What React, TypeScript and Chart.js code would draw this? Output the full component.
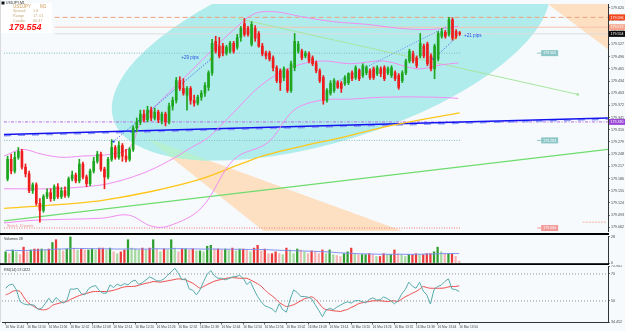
import React, { useEffect, useRef } from 'react';
import { Chart, registerables } from 'chart.js';
Chart.register(...registerables);
Chart.defaults.font.family = '"Liberation Sans", Arial, sans-serif';

// ---------- data ----------
const opens = [
179.185,179.235,179.205,179.240,179.255,179.215,179.198,179.155,179.170,179.123,
179.105,179.140,179.150,179.135,179.165,179.140,179.155,179.143,179.185,179.195,
179.180,179.223,179.190,179.173,179.205,179.230,179.248,179.210,179.190,179.235,
179.265,179.240,179.270,179.243,179.235,179.260,179.315,179.330,179.350,179.335,
179.360,179.340,179.355,179.333,179.350,179.330,179.370,179.385,179.435,179.415,
179.398,179.415,179.385,179.378,179.393,179.403,179.418,179.455,179.535,179.523,
179.523,179.505,179.510,179.530,179.520,179.545,179.580,179.568,179.528,179.568,
179.555,179.523,179.505,179.505,179.493,179.468,179.460,179.443,179.460,179.410,
179.468,179.510,179.510,179.498,179.503,179.493,179.480,179.460,179.443,179.385,
179.403,179.410,179.430,179.428,179.428,179.430,179.455,179.443,179.460,179.448,
179.455,179.460,179.465,179.453,179.465,179.468,179.455,179.448,179.455,179.448,
179.435,179.455,179.485,179.503,179.493,179.498,179.523,179.528,179.498,179.465,
179.490,179.548,179.558,179.553,179.590,179.560,179.556];
const closes = [
179.235,179.205,179.240,179.255,179.215,179.198,179.155,179.170,179.123,179.105,
179.140,179.150,179.135,179.165,179.140,179.155,179.143,179.185,179.195,179.180,
179.223,179.190,179.173,179.205,179.230,179.248,179.210,179.190,179.235,179.265,
179.240,179.270,179.243,179.235,179.260,179.315,179.330,179.350,179.335,179.360,
179.340,179.355,179.335,179.350,179.330,179.370,179.385,179.435,179.415,179.403,
179.415,179.385,179.378,179.393,179.403,179.423,179.455,179.530,179.510,179.498,
179.505,179.520,179.530,179.510,179.545,179.568,179.553,179.553,179.578,179.543,
179.523,179.503,179.498,179.490,179.468,179.435,179.430,179.465,179.410,179.478,
179.535,179.528,179.493,179.505,179.485,179.478,179.460,179.435,179.385,179.410,
179.428,179.435,179.418,179.415,179.443,179.453,179.440,179.468,179.440,179.473,
179.468,179.443,179.443,179.468,179.453,179.440,179.465,179.468,179.440,179.418,
179.455,179.485,179.510,179.485,179.473,179.530,179.498,179.478,179.465,179.523,
179.555,179.560,179.548,179.590,179.543,179.548,179.554];
const highs = [
179.243,179.248,179.253,179.265,179.260,179.223,179.205,179.175,179.175,179.135,
179.145,179.160,179.160,179.170,179.173,179.163,179.165,179.190,179.205,179.200,
179.235,179.228,179.195,179.210,179.240,179.255,179.253,179.215,179.240,179.285,
179.270,179.280,179.275,179.260,179.265,179.320,179.340,179.360,179.360,179.370,
179.368,179.365,179.360,179.355,179.355,179.378,179.393,179.443,179.445,179.440,
179.420,179.420,179.398,179.398,179.410,179.430,179.460,179.540,179.548,179.545,
179.530,179.525,179.535,179.535,179.553,179.573,179.593,179.573,179.585,179.575,
179.560,179.530,179.510,179.510,179.498,179.473,179.465,179.470,179.465,179.485,
179.555,179.535,179.515,179.510,179.508,179.498,179.485,179.465,179.448,179.415,
179.435,179.440,179.435,179.433,179.448,179.455,179.460,179.473,179.465,179.478,
179.473,179.465,179.470,179.473,179.470,179.473,179.470,179.473,179.460,179.453,
179.460,179.490,179.515,179.510,179.498,179.555,179.528,179.533,179.503,179.528,
179.560,179.568,179.563,179.596,179.595,179.565,179.560];
const lows = [
179.180,179.198,179.200,179.235,179.210,179.190,179.150,179.148,179.118,179.075,
179.100,179.135,179.128,179.130,179.135,179.135,179.138,179.138,179.180,179.175,
179.175,179.185,179.165,179.168,179.200,179.225,179.205,179.160,179.185,179.230,
179.235,179.235,179.230,179.228,179.230,179.255,179.305,179.323,179.330,179.330,
179.333,179.335,179.328,179.325,179.320,179.325,179.360,179.378,179.410,179.398,
179.360,179.375,179.370,179.373,179.385,179.395,179.410,179.448,179.505,179.493,
179.498,179.500,179.505,179.505,179.515,179.535,179.548,179.548,179.523,179.535,
179.520,179.498,179.490,179.485,179.460,179.430,179.410,179.435,179.405,179.405,
179.460,179.505,179.488,179.493,179.480,179.473,179.455,179.430,179.375,179.380,
179.398,179.405,179.415,179.405,179.423,179.425,179.435,179.438,179.435,179.443,
179.450,179.438,179.438,179.448,179.445,179.435,179.450,179.443,179.435,179.413,
179.430,179.450,179.480,179.480,179.468,179.493,179.493,179.473,179.460,179.440,
179.485,179.543,179.543,179.548,179.538,179.543,179.550];

const volumes = [
12,10,14,12,9,17,12,14,15,15, 15,14,15,22,25,15,13,15,28,16,
14,15,14,14,15,14,16,16,14,16, 12,10,12,14,25,16,15,14,16,14,
16,25,15,12,15,14,25,16,12,15, 15,14,15,13,13,12,18,19,15,15,
14,15,14,16,13,15,15,14,12,16, 19,13,15,10,10,12,10,9,16,14,
10,15,14,12,10,13,12,10,14,10, 14,9,8,7,10,12,16,10,9,9,
9,10,9,7,7,10,9,9,14,10, 9,7,9,9,10,9,9,10,10,12,
17,12,10,10,10,7,2];
const volumeMA = [
13.6,13.6,13.5,13.5,13.4,13.4,13.5,13.6,13.7,13.8,14.0,14.1,14.3,14.6,14.9,15.0,15.1,15.2,15.5,15.6,
15.6,15.6,15.5,15.5,15.4,15.4,15.4,15.3,15.3,15.2,15.1,15.0,15.0,15.0,15.2,15.2,15.1,15.0,15.0,14.9,
15.0,15.3,15.3,15.2,15.2,15.1,15.4,15.5,15.4,15.4,15.3,15.2,15.2,15.1,15.0,14.9,15.0,15.1,15.0,15.0,
14.9,14.8,14.8,14.8,14.7,14.7,14.6,14.6,14.5,14.5,14.6,14.5,14.4,14.2,14.0,13.9,13.7,13.5,13.5,13.4,
13.2,13.1,13.0,12.9,12.7,12.6,12.5,12.3,12.2,12.0,11.8,11.5,11.2,10.9,10.7,10.5,10.4,10.2,10.0,9.9,
9.8,9.7,9.6,9.5,9.4,9.4,9.4,9.3,9.4,9.4,9.4,9.3,9.3,9.3,9.4,9.4,9.5,9.6,9.6,9.7,
10.0,10.1,10.1,10.2,10.2,10.2,10.1];

const rsiValues = [
59.4,61.9,62.4,58.2,49.6,47.9,47.2,47.2,46.9,43.7, 44.5,48.1,52.0,48.6,52.6,50.1,48.4,50.3,58.9,58.7,
59.4,55.5,54.5,58.9,60.7,61.4,57.7,55.8,55.8,61.9, 59.9,62.4,61.2,62.9,61.9,64.4,65.4,62.2,63.6,65.6,
67.8,66.6,64.9,64.9,66.4,69.0,71.5,74.2,70.5,65.6, 66.6,58.9,57.9,54.5,58.2,64.4,69.8,72.5,68.6,66.8,
66.8,65.6,66.6,67.8,68.1,69.0,66.8,62.2,64.4,58.4, 53.3,49.4,46.4,45.4,44.2,41.7,47.9,43.5,41.7,50.8,
58.2,56.3,53.3,53.3,52.8,51.6,47.2,43.0,38.3,43.2, 44.5,43.5,45.4,46.9,48.4,49.4,48.4,50.1,50.3,49.6,
48.6,51.1,52.3,50.8,50.8,53.0,51.8,50.1,47.9,50.1, 55.0,58.4,63.9,60.9,59.4,63.9,57.4,54.5,47.7,58.4,
60.7,61.7,64.4,66.4,58.9,58.4,57.0];
const rsiSignal = [
54.5,55.5,57.2,57.7,57.0,53.1,49.4,47.2,45.7,44.2, 43.5,43.5,44.5,46.7,47.7,48.4,49.1,49.6,51.1,52.3,
53.5,54.5,55.3,56.0,56.8,57.0,57.0,57.0,57.0,57.4, 57.9,58.7,59.7,60.4,60.7,60.7,60.9,61.7,62.4,63.1,
63.6,64.4,64.2,63.9,64.4,64.9,65.4,65.9,66.4,66.1, 65.6,64.4,63.1,61.2,59.4,60.7,62.2,63.4,64.6,65.4,
65.9,66.6,67.1,67.3,67.1,66.8,66.8,66.8,65.6,64.2, 62.7,60.9,58.2,55.8,53.8,51.6,48.9,47.2,45.9,46.4,
47.2,48.6,50.1,51.6,52.3,53.1,51.5,48.5,45.2,43.5, 43.2,42.7,42.5,42.2,43.0,43.7,45.2,46.4,47.9,48.6,
49.1,49.6,50.1,50.1,50.1,49.9,49.6,49.9,50.1,49.6, 51.3,53.1,54.3,55.8,57.0,58.7,60.7,59.9,59.4,59.4,
59.4,59.4,59.7,60.4,60.7,60.7,61.2];

const timeTickIndex = [0,6,12,18,24,30,36,42,48,54,60,66,72,78,84,90,96,102,108,114,120,126];
const timeLabels = ['16 Mar 11:44','16 Mar 11:50','16 Mar 11:56','16 Mar 12:02','16 Mar 12:08','16 Mar 12:14',
'16 Mar 12:20','16 Mar 12:26','16 Mar 12:32','16 Mar 12:38','16 Mar 12:44','16 Mar 12:50','16 Mar 12:56',
'16 Mar 13:02','16 Mar 13:08','16 Mar 13:14','16 Mar 13:20','16 Mar 13:26','16 Mar 13:32','16 Mar 13:38',
'16 Mar 13:44','16 Mar 13:50'];
const priceTicks = [179.620,179.589,179.558,179.527,179.496,179.465,179.434,179.403,179.372,179.341,
179.310,179.279,179.248,179.217,179.186,179.155,179.124,179.093,179.062];
const volumeTicks = [0, 28];
const rsiTicks = [34.4, 50, 70, 75.9];

// indicator / object points: [bar index, price]
const bbUpper = [[-1,179.243],[4,179.260],[9.5,179.248],[15,179.240],[20.6,179.243],[29,179.248],[34,179.265],[37.3,179.330],[42.8,179.385],[51.2,179.460],[57.6,179.518],[63.1,179.565],[68.7,179.605],[74.8,179.610],[81.7,179.598],[90.9,179.585],[100.3,179.578],[109.5,179.568],[117.8,179.565],[125.6,179.573]];
const bbMiddle = [[-1,179.160],[12.3,179.160],[21.4,179.165],[28.1,179.173],[37.3,179.198],[44.8,179.230],[51.2,179.265],[55.9,179.290],[63.1,179.355],[70.6,179.423],[78.9,179.468],[87.3,179.485],[95.6,179.478],[104.8,179.485],[114.2,179.465],[120.6,179.475],[125.6,179.480]];
const bbLower = [[-1,179.073],[7.6,179.080],[26.2,179.085],[33.7,179.093],[40,179.065],[44.8,179.065],[53.9,179.110],[63.1,179.235],[72.6,179.278],[79.8,179.360],[87.3,179.385],[95.6,179.388],[104.8,179.393],[118.7,179.393],[125.6,179.390]];
const yellowMA = [[-1,179.110],[15,179.120],[26,179.130],[40,179.153],[54,179.185],[65,179.223],[71,179.243],[82,179.268],[93,179.290],[104,179.315],[115,179.335],[126,179.353]];
const blueLine = [[-1,179.298],[167.3,179.340]];
const greenLine = [[-1,179.078],[167.3,179.260]];
const lightGreenLine = [[64.2,179.593],[158.9,179.400]];
const trend29 = [[29.5,179.280],[56.7,179.490]];
const trendUpper = [[91.4,179.430],[122.5,179.573]];
const trend21 = [[118.7,179.490],[124.8,179.543]];
const purpleLevel = [[-1,179.330],[167.3,179.330]];
const tealLevelHigh = [[-1,179.505],[126.2,179.505]];
const tealLevelLow = [[-1,179.283],[126.2,179.283]];
const redLevel = [[-1,179.060],[126.2,179.060]];
const dayHigh = [[13.1,179.596],[167.3,179.596]];
const askLevel = [[13.1,179.571],[167.3,179.571]];
const bidLevel = [[13.1,179.554],[167.3,179.554]];
const smallSalmon = [[160.3,179.075],[167,179.075]];
const ellipseCenter = [90.1, 179.510];
const ellipseMajorEnd = [150.7, 179.684];
const ellipseMinorEnd = [97.7, 179.293];
const peachLow = [[38.7,179.290],[130.3,178.985],[80.6,178.985]];
const peachHigh = [[142.6,179.685],[176,179.685],[176,179.455]];

const X_MIN = -1, X_MAX = 167.33;
const BG = '#f6fafc';
const UP = '#1fa61f', DOWN = '#ee1c1c';

const pts = (a) => a.map(([x, y]) => ({ x, y }));
const line = (a, color, width, dash = [], extra = {}) => ({
  type: 'line', data: pts(a), borderColor: color, borderWidth: width, borderDash: dash,
  pointRadius: 0, tension: 0, fill: false, ...extra,
});

const fixWidth = (s) => { s.width = 17; s.paddingTop = 0; s.paddingBottom = 0; };
const setTicks = (vals) => (s) => { s.ticks = vals.map((v) => ({ value: v })); };

const bgPlugin = {
  id: 'bg',
  beforeDraw(chart) {
    const { ctx } = chart;
    ctx.save(); ctx.fillStyle = BG; ctx.fillRect(0, 0, chart.width, chart.height); ctx.restore();
  },
};

const shapesPlugin = {
  id: 'shapes',
  beforeDatasetsDraw(chart) {
    const { ctx, chartArea: a, scales } = chart;
    const x = scales.x, y = scales.y;
    const px = (i, p) => [x.getPixelForValue(i), y.getPixelForValue(p)];
    const poly = (arr) => {
      ctx.beginPath();
      arr.forEach(([i, p], k) => { const [X, Y] = px(i, p); if (k) ctx.lineTo(X, Y); else ctx.moveTo(X, Y); });
      ctx.closePath();
    };
    ctx.save();
    ctx.beginPath(); ctx.rect(a.left, a.top, a.right - a.left, a.bottom - a.top); ctx.clip();
    ctx.fillStyle = '#fddfc2';
    poly(peachLow); ctx.fill(); poly(peachHigh); ctx.fill();
    const [cx, cy] = px(ellipseCenter[0], ellipseCenter[1]);
    const [mx, my] = px(ellipseMajorEnd[0], ellipseMajorEnd[1]);
    const [nx, ny] = px(ellipseMinorEnd[0], ellipseMinorEnd[1]);
    const ra = Math.hypot(mx - cx, my - cy), rb = Math.hypot(nx - cx, ny - cy);
    const rot = Math.atan2(my - cy, mx - cx);
    ctx.beginPath(); ctx.ellipse(cx, cy, ra, rb, rot, 0, Math.PI * 2);
    ctx.fillStyle = '#b0ecec'; ctx.fill();
    ctx.clip();
    ctx.fillStyle = '#b6f0d2';
    poly(peachLow); ctx.fill(); poly(peachHigh); ctx.fill();
    ctx.restore();
  },
};

const axisTags = [
  { price: 179.596, bg: '#f2461e' },
  { price: 179.571, bg: '#f6a68c' },
  { price: 179.554, bg: '#0a0a0a' },
  { price: 179.330, bg: '#9b4ad8' },
];
const chartTags = [
  { price: 179.505, bg: '#8cc6c6' },
  { price: 179.283, bg: '#8cc6c6' },
  { price: 179.060, bg: '#f29a9a' },
];
const tagIndex = 148.7;

const mainOverlay = {
  id: 'mainOverlay',
  afterDraw(chart) {
    const { ctx, chartArea: a, scales } = chart;
    const x = scales.x, y = scales.y;
    ctx.save();
    ctx.textBaseline = 'middle';
    ctx.font = '3.6px "Liberation Sans"';
    axisTags.forEach((t) => {
      const Y = y.getPixelForValue(t.price);
      ctx.fillStyle = t.bg; ctx.fillRect(a.right + 1, Y - 3, 16, 6);
      ctx.fillStyle = '#fff'; ctx.fillText(t.price.toFixed(3), a.right + 2.5, Y + 0.3);
    });
    const tx = x.getPixelForValue(tagIndex);
    chartTags.forEach((t) => {
      const Y = y.getPixelForValue(t.price);
      ctx.fillStyle = t.bg; ctx.fillRect(tx - 4, Y - 0.5, 4, 1); ctx.fillRect(tx, Y - 3, 17, 6);
      ctx.fillStyle = '#fff'; ctx.fillText(t.price.toFixed(3), tx + 2, Y + 0.3);
    });
    // pips labels
    ctx.font = '4.6px "Liberation Sans"'; ctx.fillStyle = '#2f52e6';
    ctx.fillText('+29 pips', x.getPixelForValue(48.4), y.getPixelForValue(179.493));
    ctx.fillText('+21 pips', x.getPixelForValue(127.2), y.getPixelForValue(179.548));
    ctx.font = '3.4px "Liberation Sans"'; ctx.fillStyle = '#f08c8c';
    ctx.fillText('Stretch  10 points', a.left + 3, a.bottom - 5);
    // header
    ctx.fillStyle = '#ffffff'; ctx.fillRect(0, 3, 52, 30);
    ctx.fillStyle = '#111'; ctx.fillRect(1.5, 1.5, 3, 3);
    ctx.font = '3.4px "Liberation Sans"'; ctx.fillStyle = '#333';
    ctx.fillText('USDJPY,M1', 6, 3.2);
    ctx.font = '4.6px "Liberation Sans"'; ctx.fillStyle = '#d0a060';
    ctx.fillText('USDJPY', 13, 6.5); ctx.fillText('M1', 40, 6.5);
    ctx.fillStyle = '#c9ab7c';
    ctx.font = '3.8px "Liberation Sans"';
    ctx.fillText('Spread', 13, 11.3); ctx.fillText('1.8', 33, 11.3);
    ctx.fillText('Range', 13, 16); ctx.fillText('17, 01', 33, 16);
    ctx.fillText('Candle', 13, 20.8); ctx.fillText('00:47', 33, 20.8);
    ctx.font = 'italic bold 9px "Liberation Sans"'; ctx.fillStyle = '#ff1414';
    ctx.fillText('179.554', 9, 28);
    // frame
    ctx.fillStyle = '#cfd4d8'; ctx.fillRect(0, 0, 0.8, chart.height);
    ctx.fillStyle = '#000'; ctx.fillRect(0, chart.height - 2, a.right + 1, 2);
    ctx.restore();
  },
};

const volOverlay = {
  id: 'volOverlay',
  afterDraw(chart) {
    const { ctx, chartArea: a } = chart;
    ctx.save();
    ctx.textBaseline = 'middle'; ctx.font = '3.6px "Liberation Sans"'; ctx.fillStyle = '#333';
    ctx.fillText('Volumes 28', 4, 4);
    ctx.fillStyle = '#cfd4d8'; ctx.fillRect(0, 0, 0.8, chart.height);
    ctx.fillStyle = '#000'; ctx.fillRect(0, chart.height - 1.8, a.right + 1, 1.8);
    ctx.restore();
  },
};

const rsiOverlay = {
  id: 'rsiOverlay',
  afterDraw(chart) {
    const { ctx, chartArea: a } = chart;
    ctx.save();
    ctx.textBaseline = 'middle'; ctx.font = '3.6px "Liberation Sans"'; ctx.fillStyle = '#333';
    ctx.fillText('RSI(14) 57.0222', 4, 4.5);
    ctx.fillStyle = '#cfd4d8'; ctx.fillRect(0, 0, 0.8, a.bottom);
    ctx.restore();
  },
};

const yAxisBase = (min, max, ticks, fmt) => ({
  position: 'right', min, max, bounds: 'data',
  afterFit: fixWidth, afterBuildTicks: setTicks(ticks),
  ticks: { color: '#444', font: { size: 3.6 }, padding: 1, callback: fmt, autoSkip: false },
  grid: { drawOnChartArea: false, drawTicks: true, tickLength: 2, color: '#777' },
  border: { display: true, color: '#333', width: 1 },
});
const xHidden = { type: 'linear', min: X_MIN, max: X_MAX, bounds: 'data', offset: false, display: false };
const common = {
  responsive: false, animation: false, devicePixelRatio: 1,
  plugins: { legend: { display: false }, tooltip: { enabled: false } },
};

function mainConfig() {
  const candleColors = opens.map((o, i) => (closes[i] >= o ? UP : DOWN));
  return {
    type: 'bar',
    data: {
      datasets: [
        { type: 'bar', data: opens.map((o, i) => ({ x: i, y: [o, closes[i]] })), backgroundColor: candleColors, barThickness: 2, grouped: false, minBarLength: 1, borderWidth: 0 },
        { type: 'bar', data: opens.map((o, i) => ({ x: i, y: [lows[i], highs[i]] })), backgroundColor: candleColors, barThickness: 1, grouped: false, borderWidth: 0 },
        line(trend29, '#3a58f0', 1, [1, 1.5], { pointRadius: [1.2, 1.2], pointBackgroundColor: ['#2040ff', '#ff9020'], pointBorderWidth: 0 }),
        line(trendUpper, '#5a78f0', 0.9, [1, 1.5]),
        line(trend21, '#3a58f0', 1, [1, 1.5], { pointRadius: [1.2, 1.2], pointBackgroundColor: ['#2040ff', '#ff9020'], pointBorderWidth: 0 }),
        line(bbUpper, '#f08ef0', 1, [], { tension: 0.35 }),
        line(bbMiddle, '#f08ef0', 1, [], { tension: 0.35 }),
        line(bbLower, '#f08ef0', 1, [], { tension: 0.35 }),
        line(yellowMA, '#ffc61a', 1.3, [], { tension: 0.3 }),
        line(blueLine, '#1414f0', 1.4),
        line(blueLine.map(([i, p]) => [i, p - 0.003]), '#8c9cf4', 1.6, [7, 7]),
        line(greenLine, '#6edc6e', 1.2),
        line(lightGreenLine, '#a8e6a0', 1, [], { pointRadius: [0, 1.3], pointBackgroundColor: '#a8e6a0', pointBorderWidth: 0 }),
        line(purpleLevel, '#b46ee6', 1, [3, 1.5, 1, 1.5]),
        line(tealLevelHigh, '#80bcc4', 1, [1, 1.5]),
        line(tealLevelLow, '#80bcc4', 1, [1, 1.5]),
        line(redLevel, '#f07a7a', 1, [1, 1.5]),
        line(dayHigh, '#f0a07c', 1, [5, 3]),
        line(askLevel, '#f8c2ac', 1),
        line(bidLevel, '#dddddd', 1),
        line(smallSalmon, '#f4b4a0', 1, [2, 1]),
      ],
    },
    options: {
      ...common,
      layout: { padding: { left: 2, right: 0, top: 2, bottom: 2 } },
      scales: {
        x: xHidden,
        y: yAxisBase(179.0525, 179.630, priceTicks, (v) => Number(v).toFixed(3)),
      },
    },
    plugins: [bgPlugin, shapesPlugin, mainOverlay],
  };
}

function volConfig() {
  const colors = volumes.map((v, i) => {
    const up = closes[i] >= opens[i];
    const rising = i === 0 || v >= volumes[i - 1];
    return up ? (rising ? '#2f9e2f' : '#a6d9a0') : (rising ? '#ea3a3a' : '#f5b3b3');
  });
  return {
    type: 'bar',
    data: {
      datasets: [
        { type: 'line', data: volumeMA.map((v, i) => ({ x: i, y: v })), borderColor: '#7f8cf2', borderWidth: 1, pointRadius: 0, tension: 0.2 },
        { type: 'bar', data: volumes.map((v, i) => ({ x: i, y: v })), backgroundColor: colors, barThickness: 1.6, grouped: false, borderWidth: 0 },
      ],
    },
    options: {
      ...common,
      layout: { padding: { left: 2, right: 0, top: 1, bottom: 2 } },
      scales: {
        x: xHidden,
        y: yAxisBase(0, 29, volumeTicks, (v) => String(v)),
      },
    },
    plugins: [bgPlugin, volOverlay],
  };
}

function rsiConfig() {
  return {
    type: 'line',
    data: {
      datasets: [
        { data: rsiValues.map((v, i) => ({ x: i, y: v })), borderColor: '#58acae', borderWidth: 1, pointRadius: 0, tension: 0 },
        { data: rsiSignal.map((v, i) => ({ x: i, y: v })), borderColor: '#ef4a4a', borderWidth: 1, pointRadius: 0, tension: 0.2 },
        line([[X_MIN, 70], [X_MAX, 70]], '#8f8f8f', 1, [1, 2]),
        line([[X_MIN, 50], [X_MAX, 50]], '#8f8f8f', 1, [1, 2]),
      ],
    },
    options: {
      ...common,
      layout: { padding: { left: 2, right: 0, top: 1, bottom: 0 } },
      scales: {
        x: {
          type: 'linear', min: X_MIN, max: X_MAX, bounds: 'data', offset: false, position: 'bottom',
          afterBuildTicks: setTicks(timeTickIndex),
          afterFit: (s) => { s.height = 9; s.paddingLeft = 0; s.paddingRight = 0; },
          ticks: {
            autoSkip: false, maxRotation: 0, minRotation: 0, align: 'start', padding: 0.5,
            color: '#444', font: { size: 3.2 },
            callback: (v, idx) => timeLabels[idx],
          },
          grid: { drawOnChartArea: false, drawTicks: true, tickLength: 2.5, color: '#666' },
          border: { display: true, color: '#333', width: 1 },
        },
        y: yAxisBase(34.4, 75.9, rsiTicks, (v) => (v === 34.4 ? '34.452' : v === 75.9 ? '75.901' : String(v))),
      },
    },
    plugins: [bgPlugin, rsiOverlay],
  };
}

export default function App() {
  const r1 = useRef(null);
  const r2 = useRef(null);
  const r3 = useRef(null);
  useEffect(() => {
    document.body.style.margin = '0';
    const c1 = new Chart(r1.current, mainConfig() as any);
    const c2 = new Chart(r2.current, volConfig() as any);
    const c3 = new Chart(r3.current, rsiConfig() as any);
    return () => { c1.destroy(); c2.destroy(); c3.destroy(); };
  }, []);
  const st = (top) => ({ position: 'absolute' as const, left: 0, top });
  return (
    <div style={{ position: 'absolute', left: 0, top: 0, width: 625, height: 331, background: BG, overflow: 'hidden' }}>
      <canvas ref={r1} width={625} height={235} style={st(0)} />
      <canvas ref={r2} width={625} height={30} style={st(235)} />
      <canvas ref={r3} width={625} height={66} style={st(265)} />
    </div>
  );
}
